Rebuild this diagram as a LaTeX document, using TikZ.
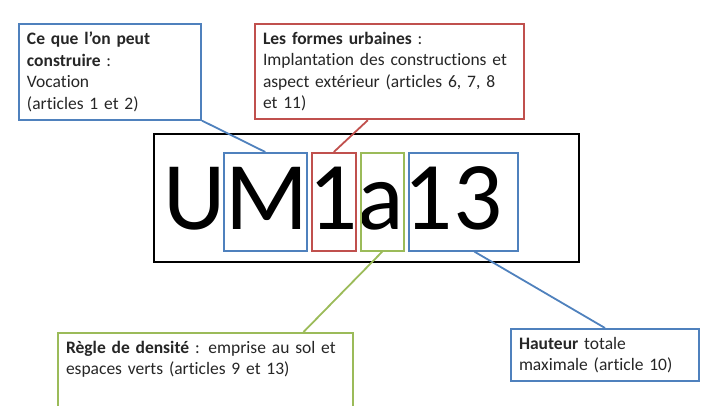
\documentclass[tikz,border=0pt]{standalone}
\usepackage{fontspec}
\setmainfont{Carlito}[Ligatures=NoCommon]
\usetikzlibrary{calc}
\definecolor{bleu}{RGB}{79,129,189}
\definecolor{rouge}{RGB}{192,80,77}
\definecolor{vert}{RGB}{155,187,89}

\begin{document}
\begin{tikzpicture}[x=1pt, y=-1pt,
  legende/.style={draw, line width=2pt, anchor=north west, align=left,
    inner xsep=8pt, inner ysep=8pt, text=black!85,
    font=\fontsize{17.5}{21.5}\selectfont},
  lettre/.style={draw, line width=1.6pt, anchor=north west, inner sep=0pt,
    minimum height=98pt},
  lien/.style={line width=1.8pt}]
  \useasboundingbox (0,0) rectangle (704,405);
  \clip (0,0) rectangle (704,405);

  % Legend boxes
  \node[legende, draw=bleu, text width=166pt, minimum height=95pt] (vocation) at (18,23)
    {\textbf{Ce que l’on peut}\\ \textbf{construire} :\\ Vocation\\ (articles 1 et 2)};
  \node[legende, draw=rouge, text width=253pt, minimum height=95pt] (formes) at (254,23)
    {\textbf{Les formes urbaines} :\\ Implantation des constructions et\\ aspect extérieur (articles 6, 7, 8\\ et 11)};
  \node[legende, draw=vert, text width=279pt, text depth=80pt] (densite) at (57,332)
    {\textbf{Règle de densité} : emprise au sol et\\ espaces verts (articles 9 et 13)};
  \node[legende, draw=bleu, text width=172pt, minimum height=52pt] (hauteur) at (510,328)
    {\textbf{Hauteur} totale\\ maximale (article 10)};

  % Zone code
  \node[draw, line width=2.2pt, anchor=north west, align=left, inner xsep=9pt,
    text width=407pt, minimum height=128pt,
    font=\fontsize{97}{97}\selectfont] (code) at (153,133) {UM1a13};

  % Boxes round the letters
  \node[lettre, draw=bleu, minimum width=83pt] (boxM) at (223,152) {};
  \node[lettre, draw=rouge, minimum width=44pt] (box1) at (311,152) {};
  \node[lettre, draw=vert, minimum width=43pt] (boxA) at (360,152) {};
  \node[lettre, draw=bleu, minimum width=109pt] (box13) at (408,152) {};

  % Connectors
  \draw[lien, bleu] (vocation.south east) -- (boxM.north);
  \draw[lien, rouge] ($(formes.south west)!0.42!(formes.south east)$) -- (box1.north);
  \draw[lien, vert] (boxA.south) -- ($(densite.north west)!0.83!(densite.north east)$);
  \draw[lien, bleu] ($(box13.south west)!0.6!(box13.south east)$) -- (hauteur.north);
\end{tikzpicture}
\end{document}
